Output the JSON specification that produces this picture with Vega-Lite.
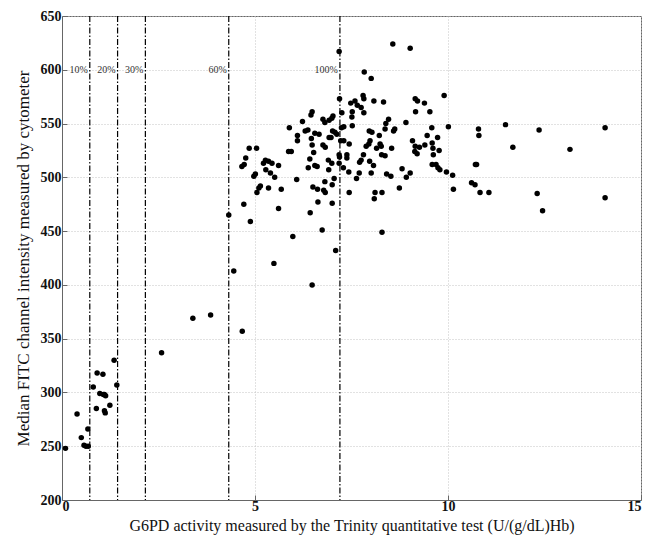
{
  "$schema": "https://vega.github.io/schema/vega-lite/v6.json",
  "width": 579,
  "height": 484,
  "autosize": {"type": "none"},
  "padding": {"left": 62, "top": 16, "right": 8, "bottom": 37},
  "background": "white",
  "config": {
    "view": {"stroke": "#666", "strokeWidth": 1},
    "font": "Liberation Serif",
    "axis": {
      "labelFont": "Liberation Serif",
      "titleFont": "Liberation Serif",
      "labelColor": "#111",
      "titleColor": "#111",
      "labelFontWeight": "bold",
      "titleFontWeight": "normal",
      "domainColor": "#666",
      "tickColor": "#666",
      "gridColor": "#c4c4c4",
      "gridDash": [1, 2],
      "tickSize": -5
    }
  },
  "datasets": {
    "pts": [
      {"x":0.09,"y":248},{"x":0.39,"y":280},{"x":0.50,"y":258},{"x":0.57,"y":251},{"x":0.62,"y":250},{"x":0.67,"y":266},{"x":0.68,"y":250},{"x":0.81,"y":305},{"x":0.91,"y":318},{"x":0.89,"y":285},{"x":0.98,"y":299},{"x":1.06,"y":317},{"x":1.07,"y":298},{"x":1.10,"y":298},{"x":1.13,"y":297},{"x":1.10,"y":283},{"x":1.12,"y":281},{"x":1.24,"y":288},{"x":1.35,"y":330},{"x":1.42,"y":307},{"x":2.58,"y":337},{"x":3.39,"y":369},{"x":3.85,"y":372},{"x":4.32,"y":465},{"x":4.45,"y":413},
      {"x":4.67,"y":357},{"x":4.66,"y":510},{"x":4.72,"y":512},{"x":4.76,"y":518},{"x":4.85,"y":527},{"x":5.04,"y":527},{"x":4.71,"y":475},{"x":4.88,"y":459},{"x":4.97,"y":501},{"x":5.01,"y":503},{"x":5.05,"y":486},{"x":5.10,"y":490},{"x":5.14,"y":492},{"x":5.22,"y":513},{"x":5.27,"y":516},{"x":5.35,"y":515},{"x":5.44,"y":513},{"x":5.28,"y":507},{"x":5.40,"y":504},{"x":5.51,"y":500},{"x":5.61,"y":511},{"x":5.35,"y":490},{"x":5.68,"y":489},{"x":5.61,"y":471},{"x":5.49,"y":420},{"x":5.87,"y":524},{"x":5.94,"y":524},{"x":5.89,"y":546},{"x":6.08,"y":498},{"x":5.98,"y":445},
      {"x":6.10,"y":539},{"x":6.10,"y":534},{"x":6.23,"y":552},{"x":6.30,"y":543},{"x":6.37,"y":544},{"x":6.45,"y":558},{"x":6.48,"y":561},{"x":6.46,"y":536},{"x":6.48,"y":530},{"x":6.55,"y":541},{"x":6.66,"y":540},{"x":6.52,"y":523},{"x":6.42,"y":517},{"x":6.38,"y":509},{"x":6.55,"y":511},{"x":6.61,"y":510},{"x":6.50,"y":491},{"x":6.43,"y":467},{"x":6.62,"y":489},{"x":6.63,"y":477},{"x":6.74,"y":451},{"x":6.48,"y":400},
      {"x":6.76,"y":554},{"x":6.81,"y":551},{"x":6.92,"y":553},{"x":6.99,"y":555},{"x":7.02,"y":557},{"x":6.76,"y":530},{"x":6.82,"y":528},{"x":6.92,"y":537},{"x":6.97,"y":537},{"x":6.90,"y":516},{"x":6.91,"y":507},{"x":7.05,"y":499},{"x":7.00,"y":493},{"x":6.81,"y":496},{"x":6.78,"y":488},{"x":6.82,"y":486},{"x":7.00,"y":476},{"x":7.09,"y":432},{"x":6.99,"y":513},
      {"x":7.18,"y":617},{"x":7.19,"y":573},{"x":7.25,"y":560},{"x":7.48,"y":569},{"x":7.59,"y":571},{"x":7.65,"y":567},{"x":7.75,"y":565},{"x":7.80,"y":576},{"x":7.82,"y":573},{"x":7.82,"y":560},{"x":7.52,"y":561},{"x":7.51,"y":556},{"x":7.52,"y":548},{"x":7.24,"y":546},{"x":7.30,"y":547},{"x":7.01,"y":543},{"x":7.07,"y":542},{"x":7.12,"y":540},{"x":7.44,"y":531},{"x":7.30,"y":534},{"x":7.22,"y":534},{"x":7.38,"y":521},{"x":7.38,"y":518},{"x":7.29,"y":509},{"x":7.18,"y":521},{"x":7.19,"y":519},{"x":7.18,"y":513},{"x":7.44,"y":486},{"x":7.43,"y":505},{"x":7.71,"y":514},{"x":7.75,"y":516},{"x":7.70,"y":504},{"x":7.63,"y":499},{"x":7.81,"y":521},{"x":7.88,"y":529},{"x":7.96,"y":543},{"x":8.03,"y":542},{"x":7.98,"y":534},{"x":7.95,"y":531},{"x":7.97,"y":515},{"x":7.83,"y":598},{"x":8.01,"y":592},
      {"x":8.07,"y":511},{"x":8.01,"y":504},{"x":8.11,"y":486},{"x":8.29,"y":486},{"x":8.09,"y":480},{"x":8.29,"y":449},{"x":8.08,"y":571},{"x":8.33,"y":570},{"x":8.46,"y":554},{"x":8.39,"y":550},{"x":8.37,"y":545},{"x":8.62,"y":545},{"x":8.59,"y":543},{"x":8.91,"y":551},{"x":8.57,"y":624},{"x":8.22,"y":539},{"x":8.24,"y":531},{"x":8.15,"y":527},{"x":8.27,"y":529},{"x":8.28,"y":521},{"x":8.37,"y":520},{"x":8.54,"y":527},{"x":8.41,"y":503},{"x":8.52,"y":501},{"x":8.74,"y":490},{"x":8.81,"y":508},{"x":8.92,"y":500},{"x":9.02,"y":504},
      {"x":9.02,"y":620},{"x":9.15,"y":573},{"x":9.21,"y":571},{"x":9.39,"y":569},{"x":9.16,"y":561},{"x":9.53,"y":561},{"x":9.58,"y":546},{"x":9.90,"y":576},{"x":9.08,"y":534},{"x":9.14,"y":524},{"x":9.15,"y":529},{"x":9.20,"y":522},{"x":9.26,"y":528},{"x":9.40,"y":530},{"x":9.46,"y":539},{"x":9.59,"y":532},{"x":9.61,"y":527},{"x":9.62,"y":521},{"x":9.73,"y":537},{"x":9.77,"y":525},{"x":9.59,"y":512},{"x":9.69,"y":512},{"x":9.74,"y":509},{"x":9.79,"y":507},{"x":9.96,"y":505},{"x":10.01,"y":547},{"x":10.12,"y":502},{"x":10.14,"y":489},
      {"x":10.79,"y":545},{"x":10.80,"y":539},{"x":11.49,"y":549},{"x":12.36,"y":544},{"x":14.07,"y":546},{"x":11.68,"y":528},{"x":13.16,"y":526},{"x":10.71,"y":512},{"x":10.74,"y":512},{"x":10.61,"y":495},{"x":10.70,"y":493},{"x":10.83,"y":486},{"x":11.06,"y":486},{"x":12.31,"y":485},{"x":12.45,"y":469},{"x":14.07,"y":481}
    ],
    "cuts": [
      {"x": 0.72, "label": "10%"},
      {"x": 1.44, "label": "20%"},
      {"x": 2.16, "label": "30%"},
      {"x": 4.32, "label": "60%"},
      {"x": 7.2, "label": "100%"}
    ]
  },
  "layer": [
    {
      "data": {"name": "pts"},
      "mark": {"type": "point", "filled": true, "color": "#000", "opacity": 1, "size": 30},
      "encoding": {
        "x": {"field": "x", "type": "quantitative",
              "scale": {"domain": [0, 15], "nice": false, "zero": false},
              "axis": {"values": [0, 5, 10, 15], "title": "G6PD activity measured by the Trinity quantitative test (U/(g/dL)Hb)",
                       "titleFontSize": 16, "labelFontSize": 14, "labelPadding": 4, "titlePadding": 4, "grid": true}},
        "y": {"field": "y", "type": "quantitative",
              "scale": {"domain": [200, 650], "nice": false, "zero": false},
              "axis": {"values": [200, 250, 300, 350, 400, 450, 500, 550, 600, 650], "title": "Median FITC channel intensity measured by cytometer",
                       "titleFontSize": 17, "labelFontSize": 14, "labelPadding": 6, "titlePadding": 8, "grid": true}}
      }
    },
    {
      "data": {"name": "cuts"},
      "mark": {"type": "rule", "color": "#000", "strokeWidth": 1.2, "strokeDash": [6, 2, 1.5, 2]},
      "encoding": {"x": {"field": "x", "type": "quantitative"}}
    },
    {
      "data": {"name": "cuts"},
      "mark": {"type": "text", "align": "right", "baseline": "middle", "dx": -2, "fontSize": 10, "color": "#333", "font": "Liberation Serif"},
      "encoding": {
        "x": {"field": "x", "type": "quantitative"},
        "y": {"datum": 600},
        "text": {"field": "label"}
      }
    }
  ]
}
